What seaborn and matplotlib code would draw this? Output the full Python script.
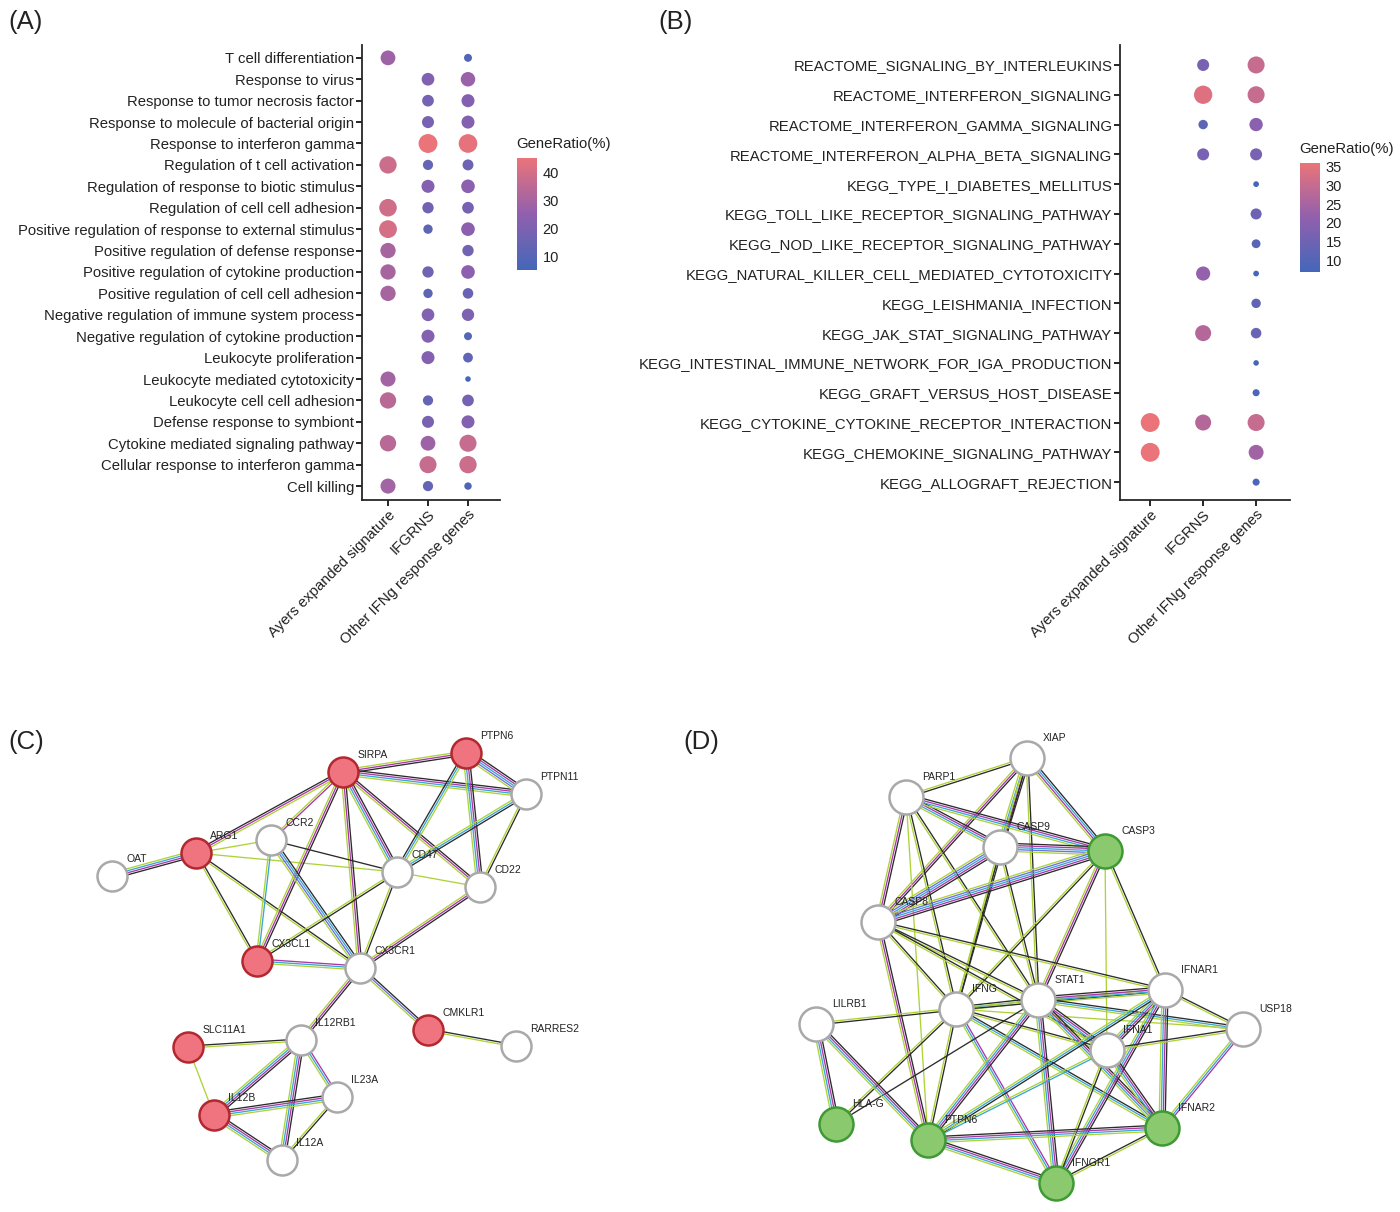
import numpy as np
import pandas as pd
import matplotlib.pyplot as plt
import seaborn as sns
from matplotlib.colors import LinearSegmentedColormap, Normalize
from matplotlib.cm import ScalarMappable

sns.set_style("ticks")
plt.rcParams["font.family"] = ["Liberation Sans", "DejaVu Sans"]

nan = np.nan
gene_sets = ["Ayers expanded signature", "IFGRNS", "Other IFNg response genes"]

# Panel A: GO enrichment (rows top to bottom), GeneRatio in %
go_terms = [
    "T cell differentiation", "Response to virus", "Response to tumor necrosis factor",
    "Response to molecule of bacterial origin", "Response to interferon gamma",
    "Regulation of t cell activation", "Regulation of response to biotic stimulus",
    "Regulation of cell cell adhesion", "Positive regulation of response to external stimulus",
    "Positive regulation of defense response", "Positive regulation of cytokine production",
    "Positive regulation of cell cell adhesion", "Negative regulation of immune system process",
    "Negative regulation of cytokine production", "Leukocyte proliferation",
    "Leukocyte mediated cytotoxicity", "Leukocyte cell cell adhesion",
    "Defense response to symbiont", "Cytokine mediated signaling pathway",
    "Cellular response to interferon gamma", "Cell killing",
]
go_ayers = [28, nan, nan, nan, nan, 38, nan, 39, 40, 30, 30, 30, nan, nan, nan, 29, 34, nan, 34, nan, 29]
go_ifgrns = [nan, 21, 18, 19, 45, 14, 22, 17, 12, nan, 17, 12, 21, 22, 22, nan, 14, 19, 28, 37, 14]
go_other = [9, 27, 22, 22, 44, 16, 24, 18, 24, 17, 24, 15, 20, 9, 13, 5, 18, 22, 37, 38, 8]

# Panel B: KEGG / Reactome enrichment (rows top to bottom)
path_terms = [
    "REACTOME_SIGNALING_BY_INTERLEUKINS", "REACTOME_INTERFERON_SIGNALING",
    "REACTOME_INTERFERON_GAMMA_SIGNALING", "REACTOME_INTERFERON_ALPHA_BETA_SIGNALING",
    "KEGG_TYPE_I_DIABETES_MELLITUS", "KEGG_TOLL_LIKE_RECEPTOR_SIGNALING_PATHWAY",
    "KEGG_NOD_LIKE_RECEPTOR_SIGNALING_PATHWAY", "KEGG_NATURAL_KILLER_CELL_MEDIATED_CYTOTOXICITY",
    "KEGG_LEISHMANIA_INFECTION", "KEGG_JAK_STAT_SIGNALING_PATHWAY",
    "KEGG_INTESTINAL_IMMUNE_NETWORK_FOR_IGA_PRODUCTION", "KEGG_GRAFT_VERSUS_HOST_DISEASE",
    "KEGG_CYTOKINE_CYTOKINE_RECEPTOR_INTERACTION", "KEGG_CHEMOKINE_SIGNALING_PATHWAY",
    "KEGG_ALLOGRAFT_REJECTION",
]
path_ayers = [nan, nan, nan, nan, nan, nan, nan, nan, nan, nan, nan, nan, 36, 36, nan]
path_ifgrns = [17, 34, 12, 17, nan, nan, nan, 22, nan, 27, nan, nan, 27, nan, nan]
path_other = [30, 30, 20, 17, 7, 15, 11, 7, 12, 14, 6.8, 8.5, 30, 24, 8.5]

# Panel C network (STRING layout)
c_genes = ["SIRPA", "PTPN6", "PTPN11", "ARG1", "CCR2", "OAT", "CD47", "CD22", "CX3CL1",
           "CX3CR1", "CMKLR1", "RARRES2", "SLC11A1", "IL12RB1", "IL23A", "IL12B", "IL12A"]
c_x = [343, 466, 526, 196, 271, 112, 397, 480, 257, 360, 428, 516, 188, 301, 337, 214, 282]
c_y = [772, 753, 794, 853, 840, 876, 872, 887, 961, 968, 1030, 1046, 1047, 1040, 1097, 1115, 1160]
c_hit = [1, 1, 0, 1, 0, 0, 0, 0, 1, 0, 1, 0, 1, 0, 0, 1, 0]
c_edges = [
    ("OAT", "ARG1", "gcmk"), ("ARG1", "SIRPA", "kmg"), ("ARG1", "CCR2", "g"),
    ("ARG1", "CD47", "g"), ("ARG1", "CX3CL1", "kg"), ("ARG1", "CX3CR1", "kg"),
    ("SIRPA", "PTPN6", "gmk"), ("SIRPA", "PTPN11", "kmcg"), ("SIRPA", "CCR2", "mg"),
    ("SIRPA", "CX3CL1", "kmg"), ("SIRPA", "CX3CR1", "kmg"), ("SIRPA", "CD47", "kmcg"),
    ("SIRPA", "CD22", "kmg"), ("PTPN6", "PTPN11", "kmcbg"), ("PTPN6", "CD22", "kmcg"),
    ("PTPN6", "CD47", "gck"), ("PTPN11", "CD22", "kg"), ("PTPN11", "CD47", "kcg"),
    ("CCR2", "CD47", "k"), ("CCR2", "CX3CL1", "cg"), ("CCR2", "CX3CR1", "kcbg"),
    ("CD47", "CD22", "g"), ("CD47", "CX3CL1", "kg"), ("CD47", "CX3CR1", "kg"),
    ("CD22", "CX3CR1", "kmg"), ("CX3CL1", "CX3CR1", "mcg"), ("CX3CR1", "IL12RB1", "kmg"),
    ("CX3CR1", "CMKLR1", "kbg"), ("CMKLR1", "RARRES2", "kg"), ("SLC11A1", "IL12RB1", "kg"),
    ("SLC11A1", "IL12B", "g"), ("IL12RB1", "IL12B", "kmcg"), ("IL12RB1", "IL12A", "kmcg"),
    ("IL12RB1", "IL23A", "mcg"), ("IL12B", "IL23A", "kmcg"), ("IL12B", "IL12A", "kmcg"),
    ("IL23A", "IL12A", "kg"),
]

# Panel D network (STRING layout)
d_genes = ["XIAP", "PARP1", "CASP9", "CASP3", "CASP8", "IFNG", "STAT1", "IFNAR1", "USP18",
           "LILRB1", "IFNA1", "HLA-G", "PTPN6", "IFNAR2", "IFNGR1"]
d_x = [1027, 906, 1000, 1105, 878, 956, 1038, 1165, 1243, 816, 1107, 836, 928, 1162, 1056]
d_y = [758, 797, 847, 851, 922, 1009, 1000, 990, 1029, 1024, 1050, 1124, 1140, 1128, 1183]
d_hit = [0, 0, 0, 1, 0, 0, 0, 0, 0, 0, 0, 1, 1, 1, 1]
d_edges = [
    ("XIAP", "PARP1", "kg"), ("XIAP", "CASP9", "kmcg"), ("XIAP", "CASP3", "kcmg"),
    ("XIAP", "CASP8", "kmg"), ("XIAP", "STAT1", "kg"), ("XIAP", "IFNG", "kg"),
    ("PARP1", "CASP9", "kmcg"), ("PARP1", "CASP3", "kmcg"), ("PARP1", "CASP8", "kmg"),
    ("PARP1", "IFNG", "kg"), ("PARP1", "STAT1", "kg"), ("PARP1", "PTPN6", "g"),
    ("CASP9", "CASP3", "kmcbg"), ("CASP9", "CASP8", "kmcbg"), ("CASP9", "IFNG", "kg"),
    ("CASP9", "STAT1", "kg"), ("CASP3", "CASP8", "kmcbg"), ("CASP3", "IFNG", "kg"),
    ("CASP3", "STAT1", "kmg"), ("CASP3", "IFNAR1", "kg"), ("CASP3", "IFNA1", "g"),
    ("CASP8", "IFNG", "kg"), ("CASP8", "STAT1", "kg"), ("CASP8", "IFNAR1", "kg"),
    ("CASP8", "PTPN6", "kmg"), ("CASP8", "IFNA1", "kg"), ("IFNG", "STAT1", "kcg"),
    ("IFNG", "LILRB1", "kg"), ("IFNG", "IFNAR1", "gk"), ("IFNG", "USP18", "g"),
    ("IFNG", "IFNA1", "kg"), ("IFNG", "HLA-G", "kg"), ("IFNG", "PTPN6", "kg"),
    ("IFNG", "IFNGR1", "mcg"), ("IFNG", "IFNAR2", "kcg"), ("STAT1", "IFNAR1", "kmcg"),
    ("STAT1", "USP18", "kcg"), ("STAT1", "IFNA1", "kmcg"), ("STAT1", "HLA-G", "k"),
    ("STAT1", "PTPN6", "kmcg"), ("STAT1", "IFNGR1", "kmcg"), ("STAT1", "IFNAR2", "kmcg"),
    ("IFNAR1", "USP18", "kg"), ("IFNAR1", "IFNA1", "kmcg"), ("IFNAR1", "IFNAR2", "kmcg"),
    ("IFNAR1", "IFNGR1", "kmcg"), ("IFNAR1", "PTPN6", "kcg"), ("IFNA1", "USP18", "kg"),
    ("IFNA1", "IFNAR2", "kmcg"), ("IFNA1", "IFNGR1", "kg"), ("IFNA1", "PTPN6", "cg"),
    ("USP18", "IFNAR2", "mcg"), ("LILRB1", "HLA-G", "kmcg"), ("LILRB1", "PTPN6", "kmcg"),
    ("PTPN6", "IFNAR2", "kmcg"), ("PTPN6", "IFNGR1", "kmcg"), ("IFNGR1", "IFNAR2", "kg"),
]

edge_colors = {"k": "#2b2b2b", "g": "#aed33a", "m": "#a83aa8", "c": "#3aa6d6", "b": "#6f6fe0"}
cmap = LinearSegmentedColormap.from_list("gr", ["#4467b9", "#9060ae", "#ea7479"])

fig = plt.figure(figsize=(14, 12.12), dpi=100)


def px(x0, y0, x1, y1):
    # figure rectangle from pixel box
    return [x0 / 1400, 1 - y1 / 1212, (x1 - x0) / 1400, (y1 - y0) / 1212]


def dot_panel(ax, cax, terms, cols, xlim, ylim, ticks, fs):
    n = len(terms)
    rows = []
    for j, vals in enumerate(cols):
        for i, v in enumerate(vals):
            if not np.isnan(v):
                rows.append((j, n - 1 - i, v))
    df = pd.DataFrame(rows, columns=["set", "pos", "ratio"])
    norm = Normalize(df["ratio"].min(), df["ratio"].max())
    sns.scatterplot(data=df, x="set", y="pos", hue="ratio", size="ratio", palette=cmap,
                    hue_norm=norm, size_norm=norm, sizes=(16, 185), legend=False,
                    linewidth=0, ax=ax, zorder=3)
    ax.set_xlim(*xlim)
    ax.set_ylim(*ylim)
    ax.set_yticks(range(n))
    ax.set_yticklabels(terms[::-1], fontsize=fs, color="#222222")
    ax.set_xticks(range(3))
    ax.set_xticklabels(gene_sets, rotation=45, ha="right", rotation_mode="anchor",
                       fontsize=fs, color="#222222")
    ax.set_xlabel("")
    ax.set_ylabel("")
    sns.despine(ax=ax)
    for s in ["left", "bottom"]:
        ax.spines[s].set_linewidth(1.3)
    ax.tick_params(length=4, width=1.2, color="black", pad=1.5)

    cb = fig.colorbar(ScalarMappable(norm=norm, cmap=cmap), cax=cax)
    cb.outline.set_visible(False)
    cb.set_ticks(ticks)
    cax.tick_params(left=True, right=True, direction="in", color="white", length=4,
                    width=0.8, labelsize=10.5, labelcolor="#222222", pad=4)
    cax.text(-0.05, 1.06, "GeneRatio(%)", transform=cax.transAxes, ha="left",
             va="bottom", fontsize=10.7, color="#222222")


axA = fig.add_axes(px(362, 45, 500, 500))
caxA = fig.add_axes(px(517, 158, 537, 270))
dot_panel(axA, caxA, go_terms, [go_ayers, go_ifgrns, go_other],
          (-0.65, 2.8), (-0.65, 20.6), [10, 20, 30, 40], 10.7)

axB = fig.add_axes(px(1120, 45, 1290, 500))
caxB = fig.add_axes(px(1300, 163, 1320, 272))
dot_panel(axB, caxB, path_terms, [path_ayers, path_ifgrns, path_other],
          (-0.57, 2.64), (-0.6, 14.67), [10, 15, 20, 25, 30, 35], 10.7)


def network(ax, genes, xs, ys, hits, edges, r, hit_fill, hit_edge):
    pos = {g: (x, y) for g, x, y in zip(genes, xs, ys)}
    for a, b, chans in edges:
        (x1, y1), (x2, y2) = pos[a], pos[b]
        L = np.hypot(x2 - x1, y2 - y1)
        nx, ny = -(y2 - y1) / L, (x2 - x1) / L
        k = len(chans)
        for i, ch in enumerate(chans):
            off = (i - (k - 1) / 2) * 2.0
            ax.plot([x1 + nx * off, x2 + nx * off], [y1 + ny * off, y2 + ny * off],
                    color=edge_colors[ch], lw=0.95, zorder=1, solid_capstyle="butt")
    nodes = pd.DataFrame({"gene": genes, "x": xs, "y": ys, "hit": hits})
    s = (2 * r * 0.72) ** 2
    sns.scatterplot(data=nodes[nodes.hit == 0], x="x", y="y", color="white", s=s,
                    edgecolor="#a9a9a9", linewidth=1.8, ax=ax, zorder=3, legend=False)
    sns.scatterplot(data=nodes[nodes.hit == 1], x="x", y="y", color=hit_fill, s=s,
                    edgecolor=hit_edge, linewidth=1.8, ax=ax, zorder=3, legend=False)
    for g, x, y in zip(genes, xs, ys):
        ax.text(x + r * 0.95, y - r * 1.15, g, fontsize=7.5, ha="left", va="center",
                color="#222222", zorder=4)
    ax.set_axis_off()


axC = fig.add_axes(px(0, 700, 700, 1212))
axC.set_xlim(0, 700)
axC.set_ylim(1212, 700)
network(axC, c_genes, c_x, c_y, c_hit, c_edges, 15, "#f07480", "#b3272f")

axD = fig.add_axes(px(700, 700, 1400, 1212))
axD.set_xlim(700, 1400)
axD.set_ylim(1212, 700)
network(axD, d_genes, d_x, d_y, d_hit, d_edges, 17, "#8bc96f", "#3e9a33")

for lab, x, y in [("(A)", 8, 22), ("(B)", 658, 22), ("(C)", 8, 742), ("(D)", 683, 742)]:
    fig.text(x / 1400, 1 - y / 1212, lab, fontsize=18.5, ha="left", va="center",
             color="#222222")

fig.savefig("out.png", dpi=100, facecolor="white")
